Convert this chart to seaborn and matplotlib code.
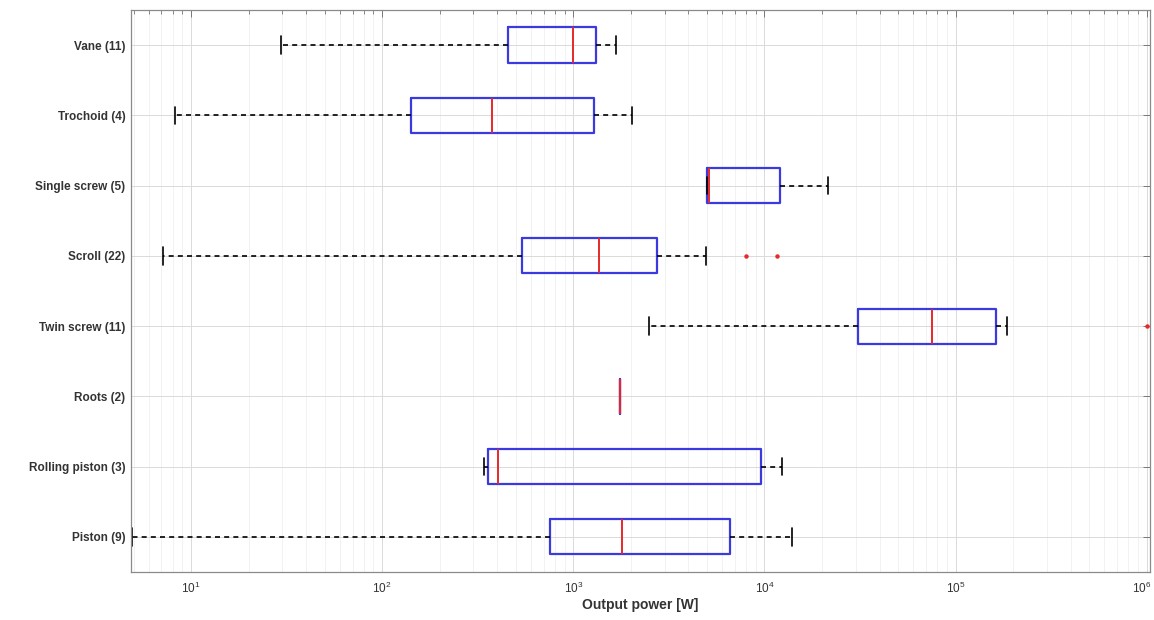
import numpy as np
import pandas as pd
import matplotlib
matplotlib.use('Agg')
import matplotlib.pyplot as plt
import matplotlib.transforms as mtransforms
import seaborn as sns
from matplotlib.ticker import LogLocator, NullFormatter

# five-number summaries (W)
categories = ['Vane (11)', 'Trochoid (4)', 'Single screw (5)', 'Scroll (22)',
              'Twin screw (11)', 'Roots (2)', 'Rolling piston (3)', 'Piston (9)']
whisker_low = [29.5, 8.2, 5000, 7.1, 2500, 1750, 340, 4.9]
q1 = [455, 142, 5000, 540, 30900, 1750, 357, 757]
median = [1000, 375, 5100, 1355, 75400, 1750, 403, 1790]
q3 = [1320, 1290, 12000, 2740, 163000, 1750, 9540, 6630]
whisker_high = [1680, 2040, 21400, 4950, 185000, 1750, 12400, 14000]

outlier_cat = ['Scroll (22)', 'Scroll (22)', 'Twin screw (11)']
outlier_val = [8000, 11700, 1.0e6]

sns.set_theme(style='white')
plt.rcParams['font.family'] = ['Liberation Sans', 'DejaVu Sans']

blue = '#3a3ae0'
red = '#e8282a'

summary = pd.DataFrame({'Expander': categories, 'low': whisker_low, 'q1': q1,
                        'med': median, 'q3': q3, 'high': whisker_high})
long = summary.melt(id_vars='Expander', value_name='power')

fig = plt.figure(figsize=(11.54, 6.2), dpi=100)
ax = fig.add_axes([0.1135, 0.0774, 0.883, 0.9066])

sns.boxplot(data=long, x='power', y='Expander', order=categories, orient='h',
            log_scale=True, whis=(0, 100), width=0.5, fill=False,
            linecolor=blue, linewidth=1.6, showfliers=False,
            boxprops=dict(color=blue, linewidth=1.6),
            medianprops=dict(color=red, linewidth=1.4),
            whiskerprops=dict(color='black', linestyle=(0, (3, 2.5)), linewidth=1.2),
            capprops=dict(color='black', linewidth=1.2),
            ax=ax)

sns.stripplot(x=outlier_val, y=outlier_cat, order=categories, orient='h',
              jitter=False, color=red, size=3.2, linewidth=0, ax=ax)

ax.set_xscale('log')
ax.set_xlim(4.85, 1.04e6)
ax.set_ylim(7.5, -0.5)

ax.xaxis.set_major_locator(LogLocator(base=10, numticks=10))
ax.xaxis.set_minor_locator(LogLocator(base=10, subs=np.arange(2, 10), numticks=20))
ax.xaxis.set_minor_formatter(NullFormatter())

ax.grid(which='major', axis='both', color='#dadada', linewidth=0.7)
ax.grid(which='minor', axis='x', color='#f0f0f0', linewidth=0.6)
ax.set_axisbelow(True)

ax.tick_params(which='both', direction='in', top=True, right=True,
               colors='#777777', labelcolor='#333333')
ax.tick_params(which='major', length=5, width=0.7)
ax.tick_params(which='minor', length=3, width=0.6)
ax.tick_params(axis='x', labelsize=8.5, pad=6)
ax.tick_params(axis='y', labelsize=8.5, pad=4)
for lbl in ax.get_yticklabels():
    lbl.set_fontweight('bold')

# keep the 10^6 label inside the canvas
fig.canvas.draw()
xlabels = ax.get_xticklabels()
visible = [l for l in xlabels if 4.85 <= l.get_position()[0] <= 1.04e6]
if visible:
    last = visible[-1]
    last.set_transform(last.get_transform() +
                       mtransforms.ScaledTranslation(-5 / 100, 0, fig.dpi_scale_trans))

for s in ax.spines.values():
    s.set_visible(True)
    s.set_color('#8a8a8a')
    s.set_linewidth(0.9)

ax.set_ylabel('')
ax.set_xlabel('Output power [W]', fontsize=10, fontweight='bold',
              color='#333333', labelpad=2)

fig.savefig('out.png', dpi=100, facecolor='white')
